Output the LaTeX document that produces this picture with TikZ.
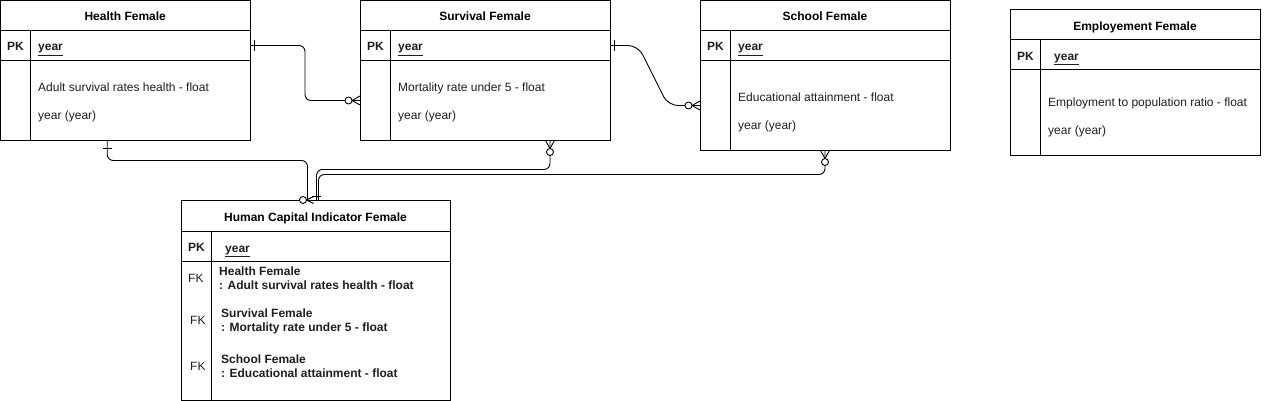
\documentclass[tikz,border=0pt]{standalone}
\usepackage{fontspec}
\setmainfont{Liberation Sans}
\usepackage{xcolor}
\definecolor{Black}{RGB}{0,0,0}
\definecolor{White}{RGB}{255,255,255}
\definecolor{Text}{RGB}{30,30,30}
\usepackage{tikz}

\tikzset{
	tbl/.style={draw=Black, line width=1pt, inner sep=0pt, outer sep=0pt, anchor=north west,
		text height=11.5pt, text depth=0.5pt, font=\fontsize{12}{14}\selectfont\bfseries},
	plain/.style={anchor=west, inner sep=0pt, text=Text, text height=11.5pt, text depth=0.5pt,
		font=\fontsize{12}{14}\selectfont},
	bold/.style={plain, font=\fontsize{12}{14}\selectfont\bfseries},
	conn/.style={draw=Black, line width=0.9pt, rounded corners=6pt},
	sep/.style={draw=Black, line width=1pt}
}

\begin{document}
\begin{tikzpicture}[x=1pt, y=-1pt]
		
		\useasboundingbox (0,0) rectangle (1271,401);
		
		% Tables
		\node[tbl, minimum width=249.5pt, minimum height=30pt] (hhead) at (0.5,0.5) {Health Female};
		\node[tbl, minimum width=249.5pt, minimum height=30pt] (hpk) at (0.5,30.5) {};
		\node[tbl, minimum width=249.5pt, minimum height=80pt] (hbody) at (0.5,60.5) {};
		
		\node[tbl, minimum width=250pt, minimum height=30pt] (shead) at (360,0.5) {Survival Female};
		\node[tbl, minimum width=250pt, minimum height=30pt] (spk) at (360,30.5) {};
		\node[tbl, minimum width=250pt, minimum height=80pt] (sbody) at (360,60.5) {};
		
		\node[tbl, minimum width=250pt, minimum height=30pt] (chead) at (700,0.5) {School Female};
		\node[tbl, minimum width=250pt, minimum height=30pt] (cpk) at (700,30.5) {};
		\node[tbl, minimum width=250pt, minimum height=90pt] (cbody) at (700,60.5) {};
		
		\node[tbl, minimum width=250pt, minimum height=30pt] (ehead) at (1010,10) {Employement Female};
		\node[tbl, minimum width=250pt, minimum height=30pt] (epk) at (1010,40) {};
		\node[tbl, minimum width=250pt, minimum height=85pt] (ebody) at (1010,70) {};
		
		\node[tbl, minimum width=269pt, minimum height=31pt] (ihead) at (181,200) {Human Capital Indicator Female};
		\node[tbl, minimum width=269pt, minimum height=30pt] (ipk) at (181,231) {};
		\node[tbl, minimum width=269pt, minimum height=139pt] (ibody) at (181,261) {};
		
		% Key columns
		\draw[sep] ([xshift=30pt]hpk.north west) -- ([xshift=30pt]hbody.south west);
		\draw[sep] ([xshift=30pt]spk.north west) -- ([xshift=30pt]sbody.south west);
		\draw[sep] ([xshift=30pt]cpk.north west) -- ([xshift=30pt]cbody.south west);
		\draw[sep] ([xshift=30pt]epk.north west) -- ([xshift=30pt]ebody.south west);
		\draw[sep] ([xshift=30pt]ipk.north west) -- ([xshift=30pt]ibody.south west);
		
		% Keys
		\node[bold] (hpkl) at (7,45.5) {PK};
		\node[bold] (hyear) at (38,45.5) {\underline{year}};
		\node[bold] (spkl) at (367,45.5) {PK};
		\node[bold] (syear) at (398,45.5) {\underline{year}};
		\node[bold] (cpkl) at (707,45.5) {PK};
		\node[bold] (cyear) at (738,45.5) {\underline{year}};
		\node[bold] (epkl) at (1017,55) {PK};
		\node[bold] (eyear) at (1054,55) {\underline{year}};
		\node[bold] (ipkl) at (188,246) {PK};
		\node[bold] (iyear) at (225,247) {\underline{year}};
		
		% Fields
		\node[plain] (hrate) at (38,86) {Adult survival rates health - float};
		\node[plain] (hyy) at (38,114) {year (year)};
		\node[plain] (srate) at (398,86) {Mortality rate under 5 - float};
		\node[plain] (syy) at (398,114) {year (year)};
		\node[plain] (crate) at (738,96) {Educational attainment - float};
		\node[plain] (cyy) at (738,124) {year (year)};
		\node[plain] (erate) at (1048,101) {Employment to population ratio - float};
		\node[plain] (eyy) at (1048,129) {year (year)};
		
		\node[plain] (ifk1) at (188,277) {FK};
		\node[plain] (ifk2) at (190,319) {FK};
		\node[plain] (ifk3) at (190,365) {FK};
		\node[bold] (ihealth) at (219,270) {Health Female};
		\node[bold] (ihealthf) at (219,284) {: Adult survival rates health - float};
		\node[bold] (isurv) at (221,312) {Survival Female};
		\node[bold] (isurvf) at (221,326) {: Mortality rate under 5 - float};
		\node[bold] (ischool) at (221,358) {School Female};
		\node[bold] (ischoolf) at (221,372) {: Educational attainment - float};
		
		% Relations
		\draw[conn] (hpk.east) -- ++(55,0) |- (sbody.west);
		\draw[conn, rounded corners=10pt] (spk.east) -- ++(28,0) -- ++(30,60) -- (cbody.west);
		\draw[conn] ([xshift=-18pt]hbody.south) -- ++(0,20) -| ([xshift=-8pt]ihead.north);
		\draw[conn] ([xshift=65pt]sbody.south) -- ++(0,29) -| ([xshift=1pt]ihead.north);
		\draw[conn] (cbody.south) -- ++(0,24) -| ([xshift=3pt]ihead.north);
		
		% Ends: one
		\draw[conn] ([shift={(4,-5.5)}]hpk.east) -- ++(0,11);
		\draw[conn] ([shift={(4,-5.5)}]spk.east) -- ++(0,11);
		\draw[conn] ([shift={(-22.5,8)}]hbody.south) -- ++(9,0);
		\draw[conn] ([shift={(-3.5,-4)}]ihead.north) -- ++(9,0);
		
		% Ends: zero or many
		\draw[conn] ([xshift=-8pt]sbody.west) -- ([yshift=4.5pt]sbody.west)
			([xshift=-8pt]sbody.west) -- ([yshift=-4.5pt]sbody.west);
		\draw[conn, fill=White] ([xshift=-11.5pt]sbody.west) circle (3.5pt);
		
		\draw[conn] ([xshift=-8pt]cbody.west) -- ([yshift=4.5pt]cbody.west)
			([xshift=-8pt]cbody.west) -- ([yshift=-4.5pt]cbody.west);
		\draw[conn, fill=White] ([xshift=-11.5pt]cbody.west) circle (3.5pt);
		
		\draw[conn] ([shift={(65,8)}]sbody.south) -- ([xshift=60.5pt]sbody.south)
			([shift={(65,8)}]sbody.south) -- ([xshift=69.5pt]sbody.south);
		\draw[conn, fill=White] ([shift={(65,11.5)}]sbody.south) circle (3.5pt);
		
		\draw[conn] ([yshift=-8pt]cbody.south) -- ([xshift=-4.5pt]cbody.south)
			([yshift=-8pt]cbody.south) -- ([xshift=4.5pt]cbody.south);
		\draw[conn, fill=White] ([yshift=-11.5pt]cbody.south) circle (3.5pt);
		
		\draw[conn] ([xshift=-9pt]ihead.north) -- ([shift={(-2,-3.5)}]ihead.north)
			([xshift=-9pt]ihead.north) -- ([shift={(-2,3.5)}]ihead.north);
		\draw[conn, fill=White] ([xshift=-12.5pt]ihead.north) circle (3.5pt);
		
	\end{tikzpicture}
\end{document}
